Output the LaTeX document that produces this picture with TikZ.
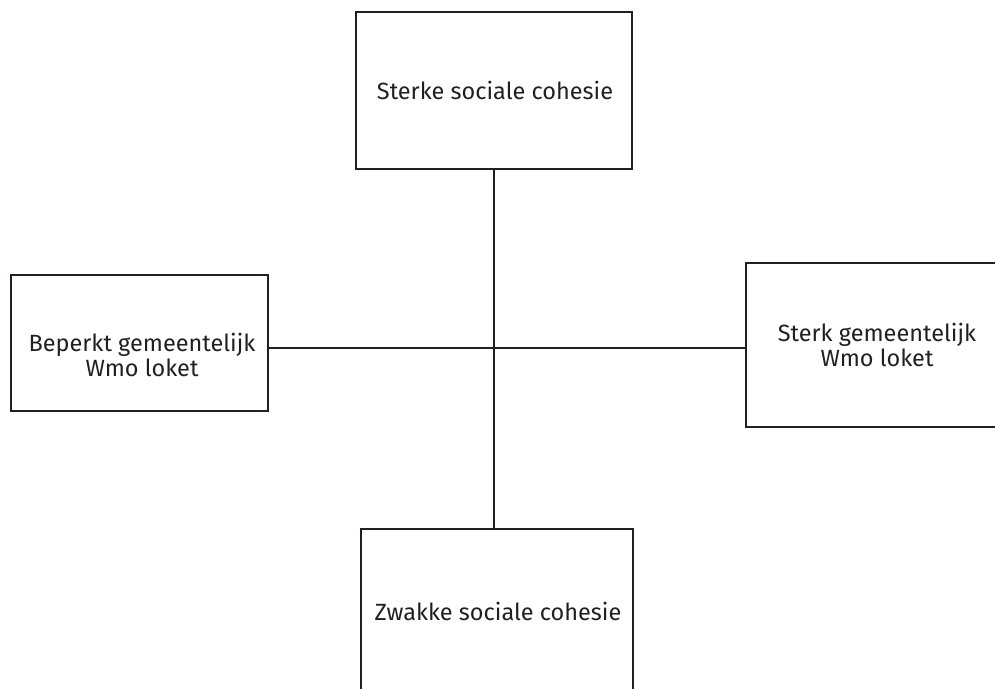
\documentclass[tikz,border=0pt]{standalone}
\usepackage{fontspec}
\setmainfont{Fira Sans}
\usetikzlibrary{calc}
\definecolor{ink}{HTML}{231F20}
\begin{document}
\begin{tikzpicture}[x=1pt,y=-1pt,
  box/.style={draw=ink,line width=2.2pt,inner sep=0pt,outer sep=0pt},
  lbl/.style={text=ink,align=center,inner sep=0pt,font=\fontsize{23.5}{25.5}\selectfont},
  conn/.style={draw=ink,line width=2.2pt}]
\useasboundingbox (0,0) rectangle (995,688);
\node[box,minimum width=276pt,minimum height=157pt] (top) at (494,90.5) {};
\node[box,minimum width=272pt,minimum height=164pt] (bot) at (497,611) {};
\node[box,minimum width=257pt,minimum height=136pt] (left) at (139.5,343) {};
\node[box,minimum width=262pt,minimum height=164pt] (right) at (877,345) {};
\node[lbl] (ttop) at (495,90) {Sterke sociale cohesie};
\node[lbl] (tbot) at (498,611) {Zwakke sociale cohesie};
\node[lbl] (tleft) at (142,355) {Beperkt gemeentelijk\\Wmo loket};
\node[lbl] (tright) at (877,345) {Sterk gemeentelijk\\Wmo loket};
\coordinate (vx) at (494,0);
\draw[conn] (top.south -| vx) -- (bot.north -| vx);
\coordinate (hy) at (0,348);
\draw[conn] (left.east |- hy) -- (right.west |- hy);
\end{tikzpicture}
\end{document}
